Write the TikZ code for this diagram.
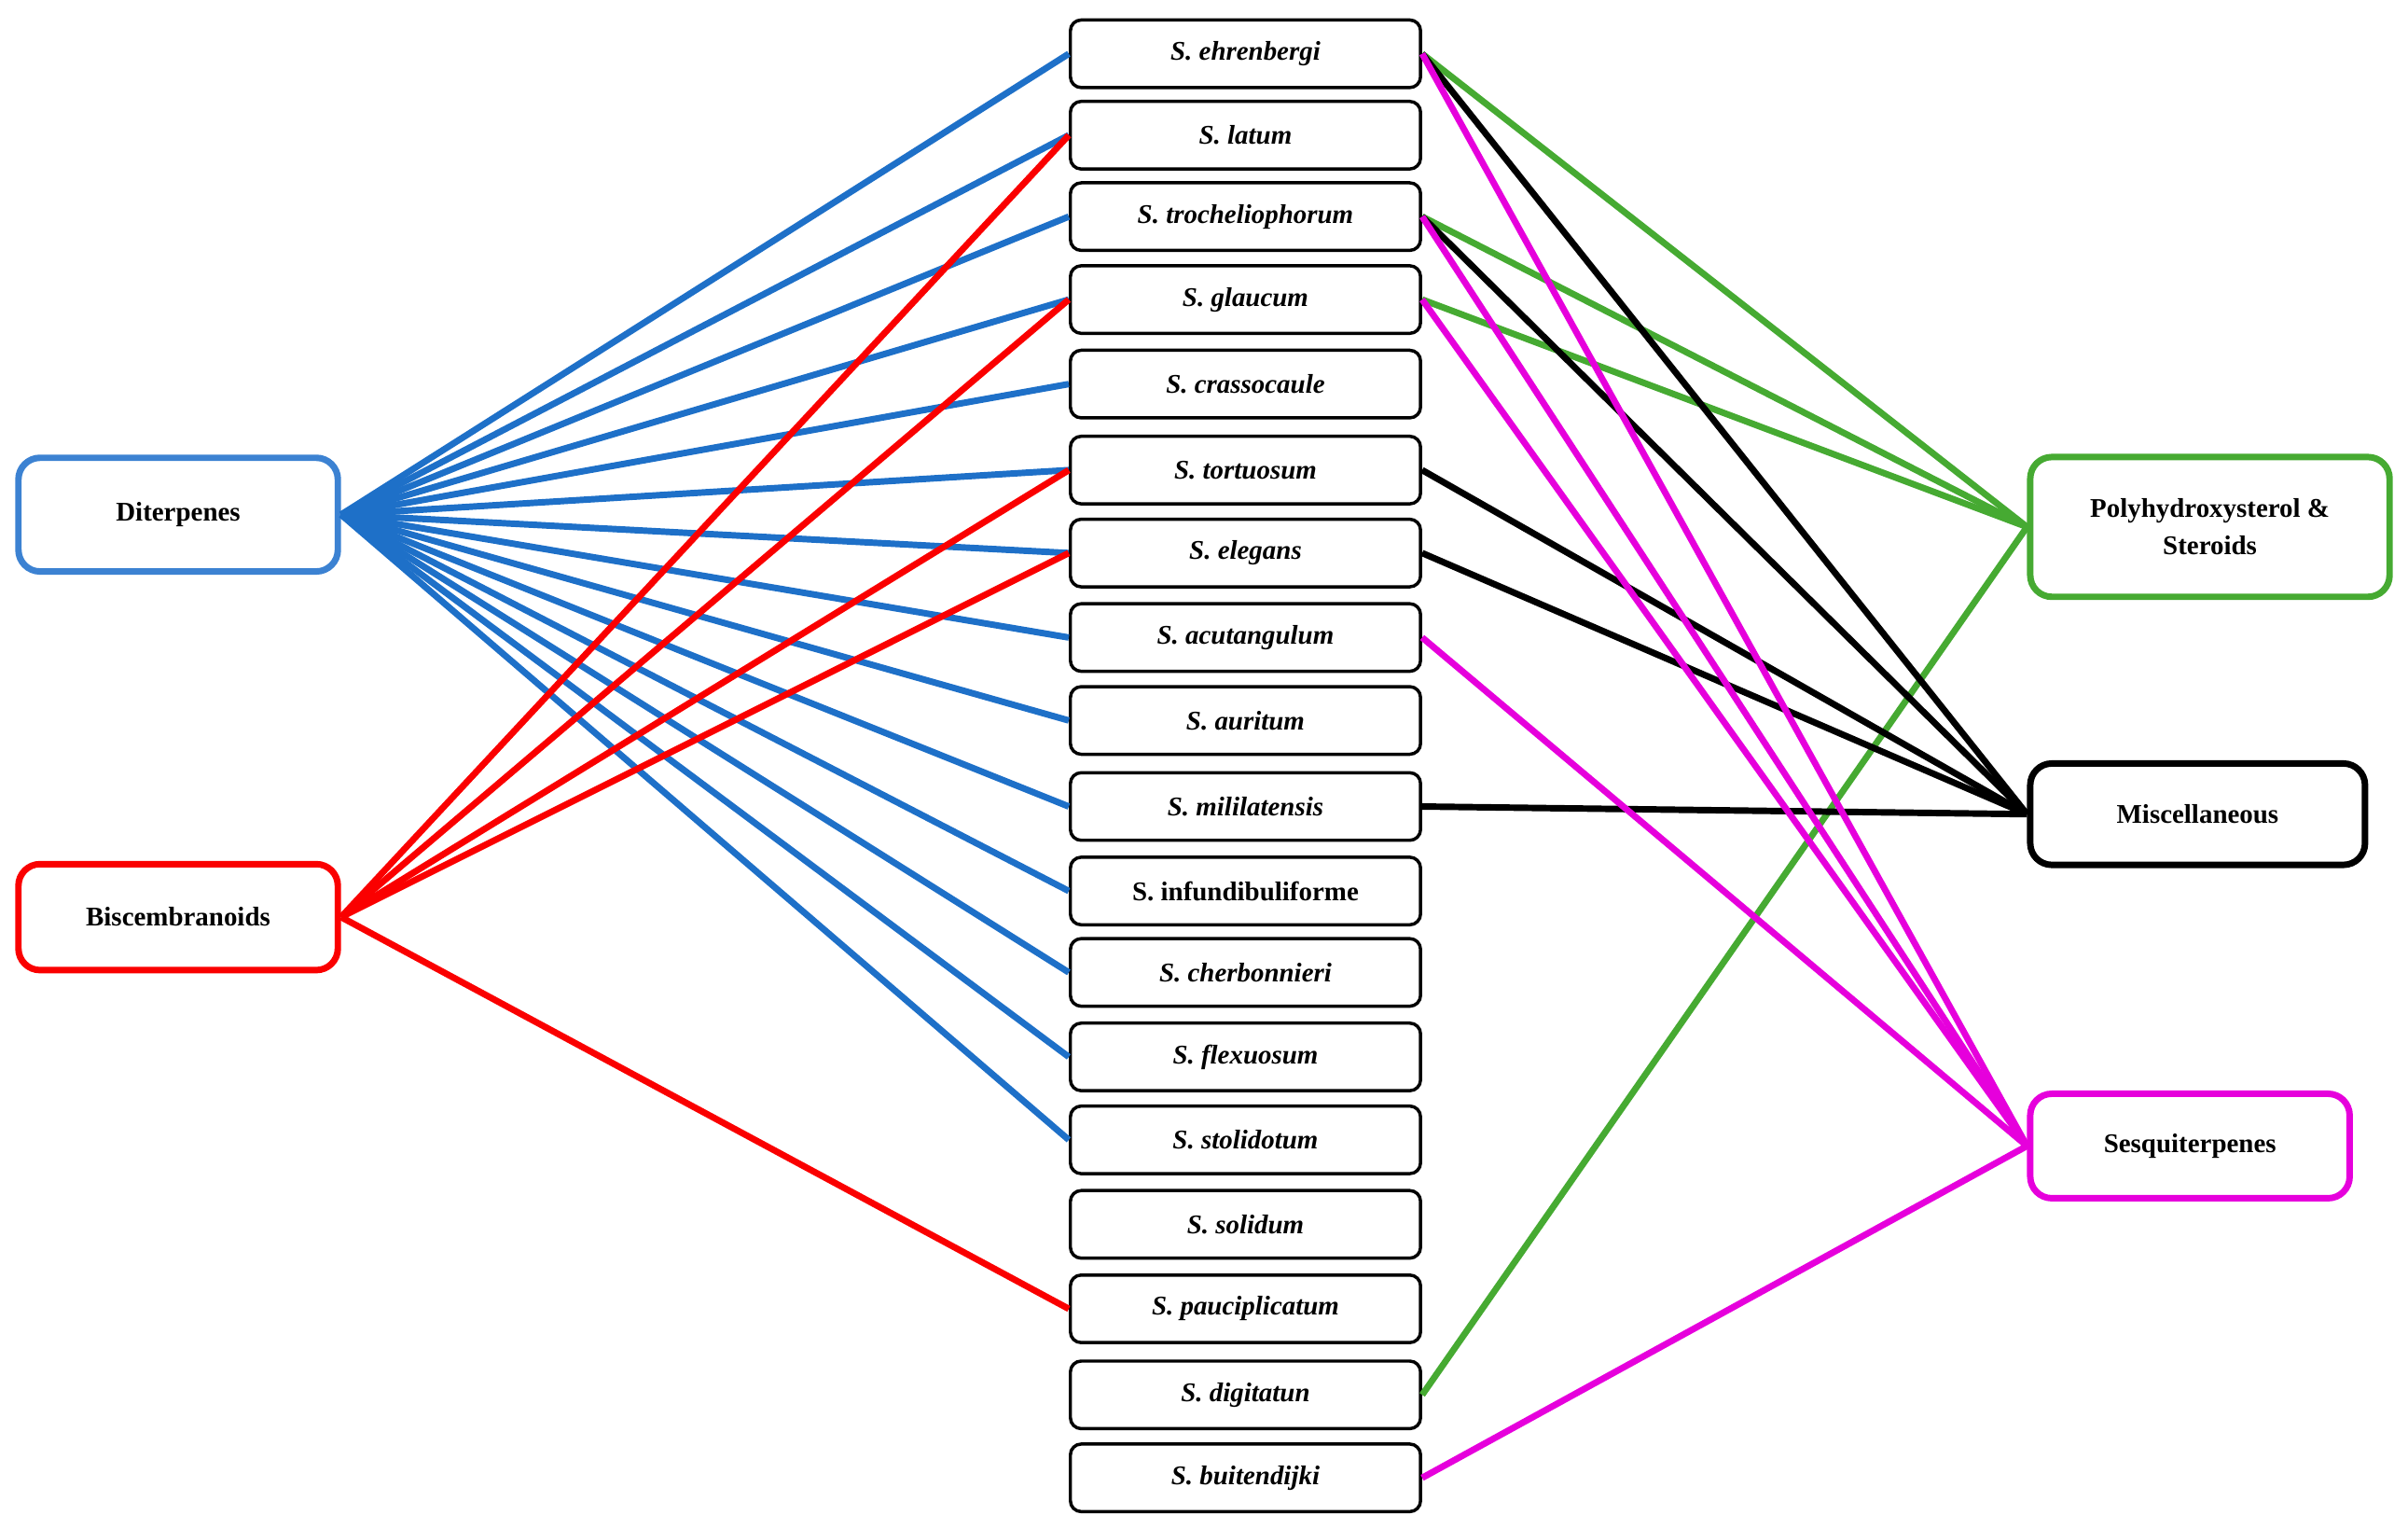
\documentclass[tikz,border=0pt]{standalone}
\usepackage{fontspec}
\setmainfont{Liberation Serif}
\begin{document}
\begin{tikzpicture}[x=0.02cm,y=-0.02cm,
  sp/.style={draw=black,line width=1.2pt,rounded corners=4pt,minimum width=228*0.02cm,minimum height=44*0.02cm,font=\bfseries\itshape\fontsize{10}{12}\selectfont,inner sep=0pt},
  cat/.style={line width=2.4pt,rounded corners=8pt,inner sep=0pt,font=\bfseries\fontsize{10}{14}\selectfont,align=center},
  ln/.style={line width=2.4pt}]
\useasboundingbox (0,0) rectangle (1568,995);
\definecolor{cblue}{RGB}{30,112,200}
\definecolor{cblueb}{RGB}{60,130,210}
\definecolor{cred}{RGB}{250,0,0}
\definecolor{cgreen}{RGB}{70,170,50}
\definecolor{cmag}{RGB}{230,0,220}
\foreach \n/\t/\y in {a/S. ehrenbergi/35, b/S. latum/88, c/S. trocheliophorum/141, d/S. glaucum/195, e/S. crassocaule/250, f/S. tortuosum/306, g/S. elegans/360, h/S. acutangulum/415, i/S. auritum/469, j/S. mililatensis/525, k/\upshape S. infundibuliforme/580, l/S. cherbonnieri/633, m/S. flexuosum/688, n/S. stolidotum/742, o/S. solidum/797, p/S. pauciplicatum/852, q/S. digitatun/908, r/S. buitendijki/962}
  \node[sp] (\n) at (811,\y) {\t};
\node[cat,draw=cblueb,minimum width=208*0.02cm,minimum height=74*0.02cm] (dit) at (116,335) {Diterpenes};
\node[cat,draw=cred,minimum width=208*0.02cm,minimum height=69*0.02cm] (bis) at (116,597) {Biscembranoids};
\node[cat,draw=cgreen,minimum width=234*0.02cm,minimum height=91*0.02cm] (pol) at (1439,343) {Polyhydroxysterol \&\\Steroids};
\node[cat,draw=black,minimum width=218*0.02cm,minimum height=66*0.02cm] (mis) at (1431,530) {Miscellaneous};
\node[cat,draw=cmag,minimum width=208*0.02cm,minimum height=68*0.02cm] (ses) at (1426,746) {Sesquiterpenes};
\foreach \t in {a,b,c,d,e,f,g,h,i,j,k,l,m,n} \draw[ln,cblue] (dit.east) -- (\t.west);
\foreach \t in {b,d,f,g,p} \draw[ln,cred] (bis.east) -- (\t.west);
\foreach \t in {a,c,d,q} \draw[ln,cgreen] (\t.east) -- (pol.west);
\foreach \t in {a,c,f,g,j} \draw[ln,black] (\t.east) -- (mis.west);
\foreach \t in {a,c,d,h,r} \draw[ln,cmag] (\t.east) -- (ses.west);
\end{tikzpicture}
\end{document}
